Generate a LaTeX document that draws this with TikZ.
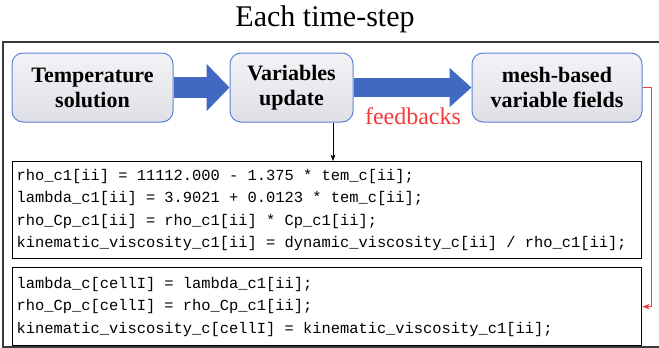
\documentclass[tikz,border=0pt]{standalone}
\usepackage{fontspec}
\setmainfont{Liberation Serif}
\setmonofont{Liberation Mono}
\usetikzlibrary{arrows.meta,calc}
\definecolor{frameGray}{HTML}{3A3A3A}
\definecolor{stageBlue}{HTML}{5B84D4}
\definecolor{arrowBlue}{HTML}{4169C2}
\definecolor{stageTop}{HTML}{F3F3F6}
\definecolor{stageBot}{HTML}{DFE0E6}
\definecolor{fbRed}{HTML}{F23A3A}

\begin{document}
\begin{tikzpicture}[
  x=1pt, y=-1pt,
  >=Stealth,
  every node/.style={inner sep=0pt},
  stagebox/.style={draw=stageBlue, line width=1pt, rounded corners=11pt,
    top color=stageTop, bottom color=stageBot, align=center,
    font=\bfseries\fontsize{22}{25}\selectfont, minimum height=69pt},
  codebox/.style={draw=black, line width=1.3pt, anchor=north west,
    inner xsep=4pt, text width=621pt,
    font=\ttfamily\fontsize{15.4}{22.5}\selectfont,
    execute at begin node={\spaceskip=0pt\xspaceskip=0pt}},
  blockarrow/.style={draw=arrowBlue, line width=#1}
]
  \useasboundingbox (0,0) rectangle (659,348);

  % Outer frame (right side runs off the page)
  \draw[frameGray, line width=1.5pt] (3,42) rectangle (668,347);

  % Title
  \node[font=\fontsize{30}{34}\selectfont] (title) at (325,19) {Each time-step};

  % Stages
  \node[stagebox, minimum width=161pt] (temp) at (92.5,87.5)
    {Temperature\\solution};
  \node[stagebox, minimum width=123pt] (update) at (291.5,87.5)
    {Variables\\update};
  \node[stagebox, minimum width=170pt] (fields) at (557,87.5)
    {mesh-based\\variable fields};

  % Block arrows between stages
  \draw[blockarrow=21pt, -{Triangle[length=23pt,width=46pt]}]
    (temp.east) -- (update.west);
  \draw[blockarrow=19pt, -{Triangle[length=22pt,width=38pt]}]
    (update.east) -- (fields.west);

  \node[text=fbRed, font=\fontsize{24}{28}\selectfont] (fb) at (413,116) {feedbacks};

  % Code blocks
  \node[codebox, minimum height=97pt] (codeA) at (12,161)
    {rho\_c1[ii] = 11112.000 - 1.375 * tem\_c[ii];\\
     lambda\_c1[ii] = 3.9021 + 0.0123 * tem\_c[ii];\\
     rho\_Cp\_c1[ii] = rho\_c1[ii] * Cp\_c1[ii];\\
     kinematic\_viscosity\_c1[ii] = dynamic\_viscosity\_c[ii] / rho\_c1[ii];};
  \node[codebox, minimum height=78pt] (codeB) at (12,267)
    {lambda\_c[cellI] = lambda\_c1[ii];\\
     rho\_Cp\_c[cellI] = rho\_Cp\_c1[ii];\\
     kinematic\_viscosity\_c[cellI] = kinematic\_viscosity\_c1[ii];};

  % Update -> code
  \draw[->, line width=0.8pt] ([xshift=41.5pt]update.south)
    -- ([xshift=41.5pt]update.south |- codeA.north);

  % Feedback path
  \draw[->, fbRed, line width=1pt] (fields.east) -- ++(9,0) |- (codeB.east);
\end{tikzpicture}
\end{document}
